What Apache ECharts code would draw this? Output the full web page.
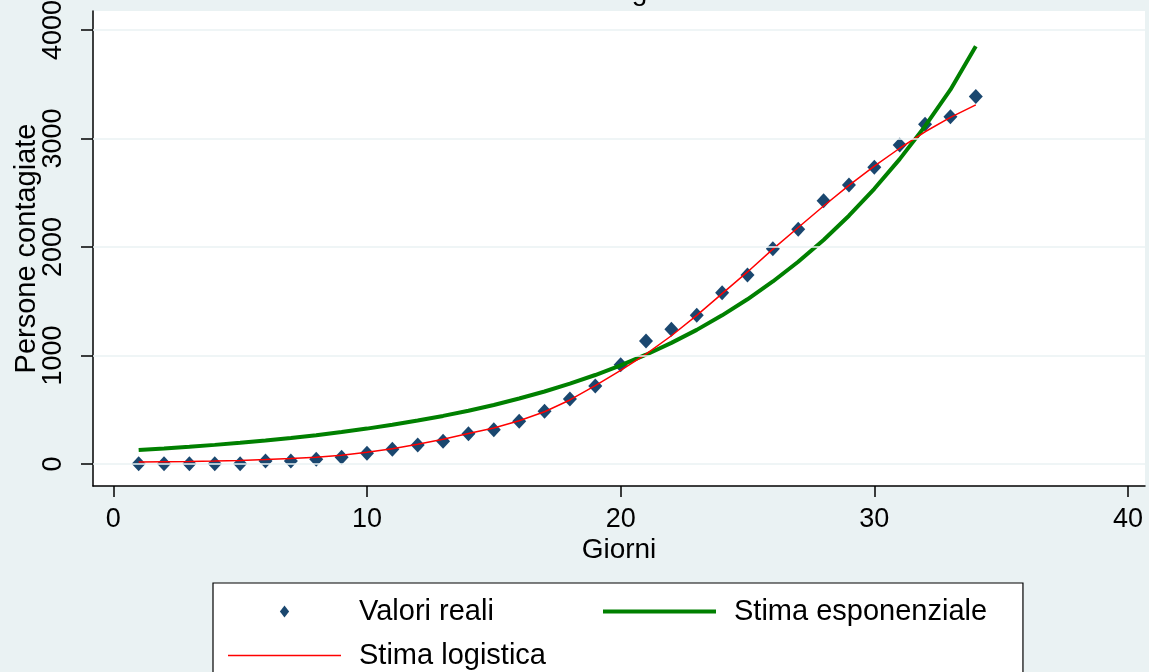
<!DOCTYPE html>
<html>
<head>
<meta charset="utf-8">
<script src="https://cdn.jsdelivr.net/npm/echarts@6/dist/echarts.min.js"></script>
<style>
html,body{margin:0;padding:0;background:#EAF2F3;}
#chart{width:1149px;height:672px;}
</style>
</head>
<body>
<div id="chart"></div>
<script>
const days = [1,2,3,4,5,6,7,8,9,10,11,12,13,14,15,16,17,18,19,20,21,22,23,24,25,26,27,28,29,30,31,32,33,34];
const valoriReali = [3,3,3,1,3,28,28,43,62,98,136,175,209,279,316,393,485,599,719,915,1134,1242,1370,1579,1742,1984,2163,2427,2571,2735,2940,3131,3201,3386];
const stimaEsponenziale = [129,143,159,176,195,216,239,265,294,326,361,400,443,491,544,603,668,740,820,909,1007,1116,1236,1370,1518,1682,1864,2065,2288,2536,2810,3113,3450,3850];
const stimaLogistica = [18,20,22,27,33,41,50,62,80,108,140,182,228,281,332,398,481,590,722,862,1012,1182,1370,1570,1770,1980,2180,2378,2568,2745,2910,3062,3195,3310];
const xTicks = [0,10,20,30,40];
const yTicks = [0,1000,2000,3000,4000];
const seriesNames = ['Valori reali','Stima esponenziale','Stima logistica'];

const pairs = arr => days.map((d,i)=>[d, arr[i]]);
const FONT = "'Liberation Sans', Arial, sans-serif";
const legendText = {fontSize:29, color:'#000', fontFamily:FONT, padding:[0,0,0,13]};
const icons = {
  diamond:'path://M5,0L10,6.5L5,13L0,6.5Z',
  thick:'path://M0,0L113,0L113,4L0,4Z',
  thin:'path://M0,0L113,0L113,1.5L0,1.5Z'
};

const chart = echarts.init(document.getElementById('chart'), null, {renderer:'canvas'});
chart.setOption({
  animation:false,
  backgroundColor:'#EAF2F3',
  textStyle:{fontFamily:FONT},
  title:{text:'Contagi', left:552, top:-27, textStyle:{fontSize:28, fontWeight:'normal', color:'#000', fontFamily:FONT}},
  grid:{left:93, right:4, top:11, bottom:186, show:true, backgroundColor:'#fff', borderWidth:0, containLabel:false, outerBoundsMode:'none'},
  xAxis:{
    type:'value', min:-0.8, max:40.67,
    axisLine:{show:true, onZero:false, lineStyle:{color:'#000', width:1.5}},
    axisTick:{show:true, customValues:xTicks, length:11, lineStyle:{color:'#000', width:1.5}},
    axisLabel:{customValues:xTicks, fontSize:27, color:'#000', margin:20, fontFamily:FONT, formatter:v=>String(v)},
    splitLine:{show:false},
    name:'Giorni', nameLocation:'middle', nameGap:50, nameMoveOverlap:false,
    nameTextStyle:{fontSize:28, color:'#000', fontFamily:FONT}
  },
  yAxis:{
    type:'value', min:-203, max:4175,
    axisLine:{show:true, onZero:false, lineStyle:{color:'#000', width:1.5}},
    axisTick:{show:true, customValues:yTicks, length:12, lineStyle:{color:'#000', width:1.5}},
    axisLabel:{customValues:yTicks, rotate:90, fontSize:27, color:'#000', margin:26, fontFamily:FONT, formatter:v=>String(v)},
    splitLine:{show:false},
    name:'Persone contagiate', nameLocation:'middle', nameRotate:90, nameGap:52, nameMoveOverlap:false,
    nameTextStyle:{fontSize:29, color:'#000', fontFamily:FONT}
  },
  legend:[
    {
      left:213, top:583, orient:'vertical', height:200,
      padding:[14,477,15,15], itemGap:15, itemWidth:113, itemHeight:12,
      symbolKeepAspect:true, z:4,
      backgroundColor:'#fff', borderColor:'#000', borderWidth:1.2, borderRadius:0,
      textStyle:legendText,
      data:[
        {name:seriesNames[0], icon:icons.diamond},
        {name:seriesNames[2], icon:icons.thin}
      ]
    },
    {
      left:603, top:583, orient:'vertical', height:200,
      padding:[14,0,0,0], itemGap:15, itemWidth:113, itemHeight:12,
      symbolKeepAspect:true, z:6,
      textStyle:legendText,
      data:[
        {name:seriesNames[1], icon:icons.thick}
      ]
    }
  ],
  series:[
    {
      name:'grid', type:'line', data:[], z:1, silent:true,
      markLine:{silent:true, symbol:['none','none'], label:{show:false},
        lineStyle:{color:'#EAF2F3', width:1.5, type:'solid'},
        data: yTicks.map(v=>({yAxis:v}))}
    },
    {
      name:seriesNames[0], type:'scatter', data:pairs(valoriReali), z:2,
      symbol:'diamond', symbolSize:[14,15],
      itemStyle:{color:'#1A476F', opacity:1}
    },
    {
      name:seriesNames[1], type:'line', data:pairs(stimaEsponenziale), z:3,
      showSymbol:false, symbol:'none',
      lineStyle:{color:'#008000', width:4},
      itemStyle:{color:'#008000'}
    },
    {
      name:seriesNames[2], type:'line', data:pairs(stimaLogistica), z:4,
      showSymbol:false, symbol:'none',
      lineStyle:{color:'#FF0000', width:1.5},
      itemStyle:{color:'#FF0000'}
    }
  ]
});
</script>
</body>
</html>
